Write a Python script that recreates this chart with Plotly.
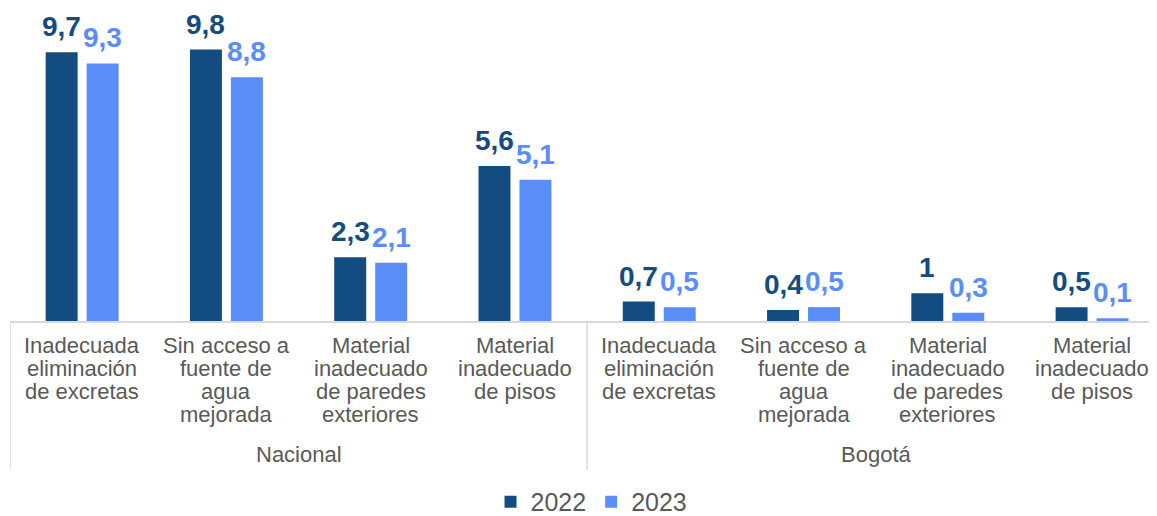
import plotly.graph_objects as go

# ---- data ----
groups = ["Nacional", "Bogotá"]
indicators = [
    "Inadecuada<br>eliminación<br>de excretas",
    "Sin acceso a<br>fuente de<br>agua<br>mejorada",
    "Material<br>inadecuado<br>de paredes<br>exteriores",
    "Material<br>inadecuado<br>de pisos",
]
categories = indicators + indicators
v2022 = [9.7, 9.8, 2.3, 5.6, 0.7, 0.4, 1.0, 0.5]
v2023 = [9.3, 8.8, 2.1, 5.1, 0.5, 0.5, 0.3, 0.1]
series_names = ["2022", "2023"]

# ---- style ----
C22 = "#124C81"
C23 = "#5B8DF8"
GRAY = "#595959"
LINE = "#D9D9D9"
FONT = "Liberation Sans"

idx = list(range(len(categories)))

def fmt(v):
    return f"{v:g}".replace(".", ",")

fig = go.Figure()
fig.add_trace(go.Bar(x=idx, y=v2022, name=series_names[0], marker_color=C22, marker_line_width=0))
fig.add_trace(go.Bar(x=idx, y=v2023, name=series_names[1], marker_color=C23, marker_line_width=0))

ann = []
OFF = 0.142
for i in idx:
    for vals, sgn, col in ((v2022, -1, C22), (v2023, 1, C23)):
        ann.append(dict(x=i + sgn * OFF, y=vals[i], xref="x", yref="y", text=fmt(vals[i]),
                        showarrow=False, yanchor="bottom", yshift=8,
                        font=dict(family=FONT, size=28, color=col, weight="bold")))
    for j, line in enumerate(categories[i].split("<br>")):
        ann.append(dict(x=i, y=0, xref="x", yref="y", text=line, showarrow=False,
                        yanchor="middle", yshift=-(24 + 23.3 * j),
                        font=dict(family=FONT, size=22, color=GRAY)))
for g, name in enumerate(groups):
    ann.append(dict(x=1.5 + 4 * g, y=0, xref="x", yref="y", text=name, showarrow=False,
                    yanchor="middle", yshift=-133, font=dict(family=FONT, size=22, color=GRAY)))

shapes = []
for xv in (-0.5, 3.5):
    shapes.append(dict(type="line", xref="x", yref="paper", x0=xv, x1=xv, y0=0, y1=-0.476,
                       line=dict(color=LINE, width=1.5)))

fig.update_layout(
    width=1149, height=508,
    margin=dict(l=2, r=0, t=0, b=195, autoexpand=False),
    paper_bgcolor="white", plot_bgcolor="white",
    barmode="group", bargap=0.432, bargroupgap=0.22,
    font=dict(family=FONT, color=GRAY),
    xaxis=dict(range=[-0.5, 7.45], showline=True, linecolor=LINE, linewidth=1.5,
               showgrid=False, zeroline=False, showticklabels=False, ticks=""),
    yaxis=dict(range=[0, 11.3], visible=False),
    annotations=ann, shapes=shapes,
    legend=dict(orientation="h", x=0.507, xanchor="center", y=-0.578, yanchor="middle",
                font=dict(family=FONT, size=25, color=GRAY)),
)

fig.write_html("out.html")
